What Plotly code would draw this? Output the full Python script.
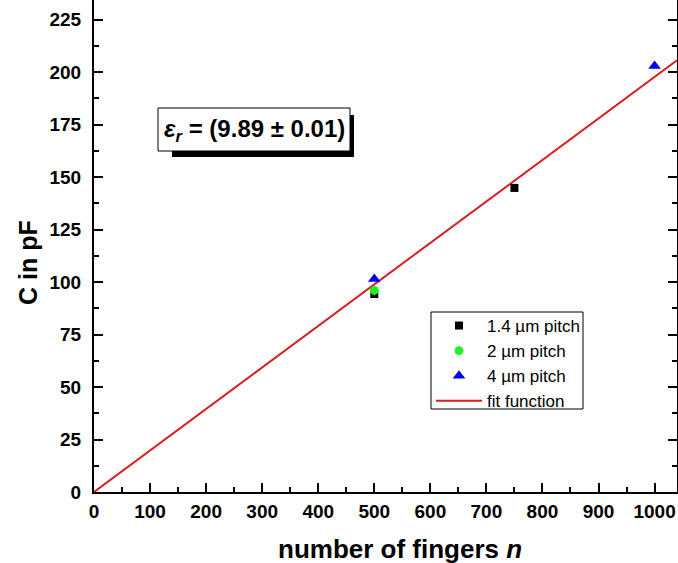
import plotly.graph_objects as go

# data
n_14 = [500, 750]
c_14 = [94.3, 144.8]
n_2 = [500]
c_2 = [96.0]
n_4 = [500, 1000]
c_4 = [101.4, 202.9]
fit_n = [0, 1040]
fit_slope = 0.1977
fit_c = [v * fit_slope for v in fit_n]

W, H = 678, 563
L, R, T, B = 94, 1, 0, 71
pw = W - L - R
ph = H - T - B

def px(xp):
    return (xp - L) / pw

def py(yp):
    return (H - B - yp) / ph

fig = go.Figure()
fig.add_trace(go.Scatter(x=fit_n, y=fit_c, mode="lines", name="fit function",
                         line=dict(color="#d81e1e", width=2)))
fig.add_trace(go.Scatter(x=n_14, y=c_14, mode="markers", name="1.4 µm pitch",
                         marker=dict(symbol="square", color="black", size=8)))
fig.add_trace(go.Scatter(x=n_2, y=c_2, mode="markers", name="2 µm pitch",
                         marker=dict(symbol="circle", color="#22ee22", size=9)))
fig.add_trace(go.Scatter(x=n_4, y=c_4, mode="markers", name="4 µm pitch",
                         marker=dict(symbol="triangle-up", color="#0000ee", size=11)))

# text box with shadow
fig.add_shape(type="rect", xref="paper", yref="paper",
              x0=px(172), x1=px(354), y0=py(157), y1=py(115),
              fillcolor="black", line=dict(width=0), layer="above")
fig.add_shape(type="rect", xref="paper", yref="paper",
              x0=px(158), x1=px(350), y0=py(151), y1=py(108),
              fillcolor="white", line=dict(color="black", width=1), layer="above")
fig.add_annotation(xref="paper", yref="paper", x=px(254), y=py(130),
                   text="<i>ε<sub>r</sub></i> = (9.89 ± 0.01)", showarrow=False,
                   font=dict(family="Liberation Sans, Arial", size=24, color="black", weight="bold"),
                   xanchor="center", yanchor="middle")

# legend frame
fig.add_shape(type="rect", xref="paper", yref="paper",
              x0=px(431), x1=px(583), y0=py(409), y1=py(312),
              fillcolor="white", line=dict(color="black", width=1), layer="above")

# axis titles
fig.add_annotation(xref="paper", yref="paper", x=px(400), y=py(549),
                   text="<b>number of fingers <i>n</i></b>", showarrow=False,
                   font=dict(size=26), xanchor="center", yanchor="middle")
fig.add_annotation(xref="paper", yref="paper", x=px(28), y=py(263),
                   text="<b>C in pF</b>", showarrow=False, textangle=-90,
                   font=dict(size=25), xanchor="center", yanchor="middle")

fig.update_layout(
    width=W, height=H,
    margin=dict(l=L, r=R, t=T, b=B, autoexpand=False),
    paper_bgcolor="white", plot_bgcolor="white",
    font=dict(family="Liberation Sans, Arial", color="black"),
    showlegend=True,
    legend=dict(x=px(431), y=py(308), xanchor="left", yanchor="top",
                borderwidth=0, bgcolor="rgba(0,0,0,0)",
                font=dict(size=17), traceorder="normal", itemwidth=46,
                tracegroupgap=0),
    xaxis=dict(range=[0, 1040], tickmode="array", automargin=False,
               tickvals=[0, 100, 200, 300, 400, 500, 600, 700, 800, 900, 1000],
               ticks="inside", ticklen=9, tickwidth=2, tickcolor="black",
               minor=dict(dtick=50, ticks="inside", ticklen=5, tickwidth=2, tickcolor="black"),
               showline=True, linecolor="black", linewidth=2, mirror=False,
               showgrid=False, zeroline=False,
               tickfont=dict(size=19, weight="bold"), ticklabelstandoff=1),
    yaxis=dict(range=[0, ph / 2.1], tickmode="array", automargin=False,
               tickvals=[0, 25, 50, 75, 100, 125, 150, 175, 200, 225],
               ticks="inside", ticklen=9, tickwidth=2, tickcolor="black",
               minor=dict(dtick=12.5, ticks="inside", ticklen=5, tickwidth=2, tickcolor="black"),
               showline=True, linecolor="black", linewidth=2, mirror="ticks",
               showgrid=False, zeroline=False,
               tickfont=dict(size=19, weight="bold"), ticklabelstandoff=7),
)

# legend order: 1.4, 2, 4, fit
fig.data[0].legendrank = 4
fig.data[1].legendrank = 1
fig.data[2].legendrank = 2
fig.data[3].legendrank = 3

fig.write_html("out.html", config={"displayModeBar": False},
               post_script="document.body.style.margin='0px';")
